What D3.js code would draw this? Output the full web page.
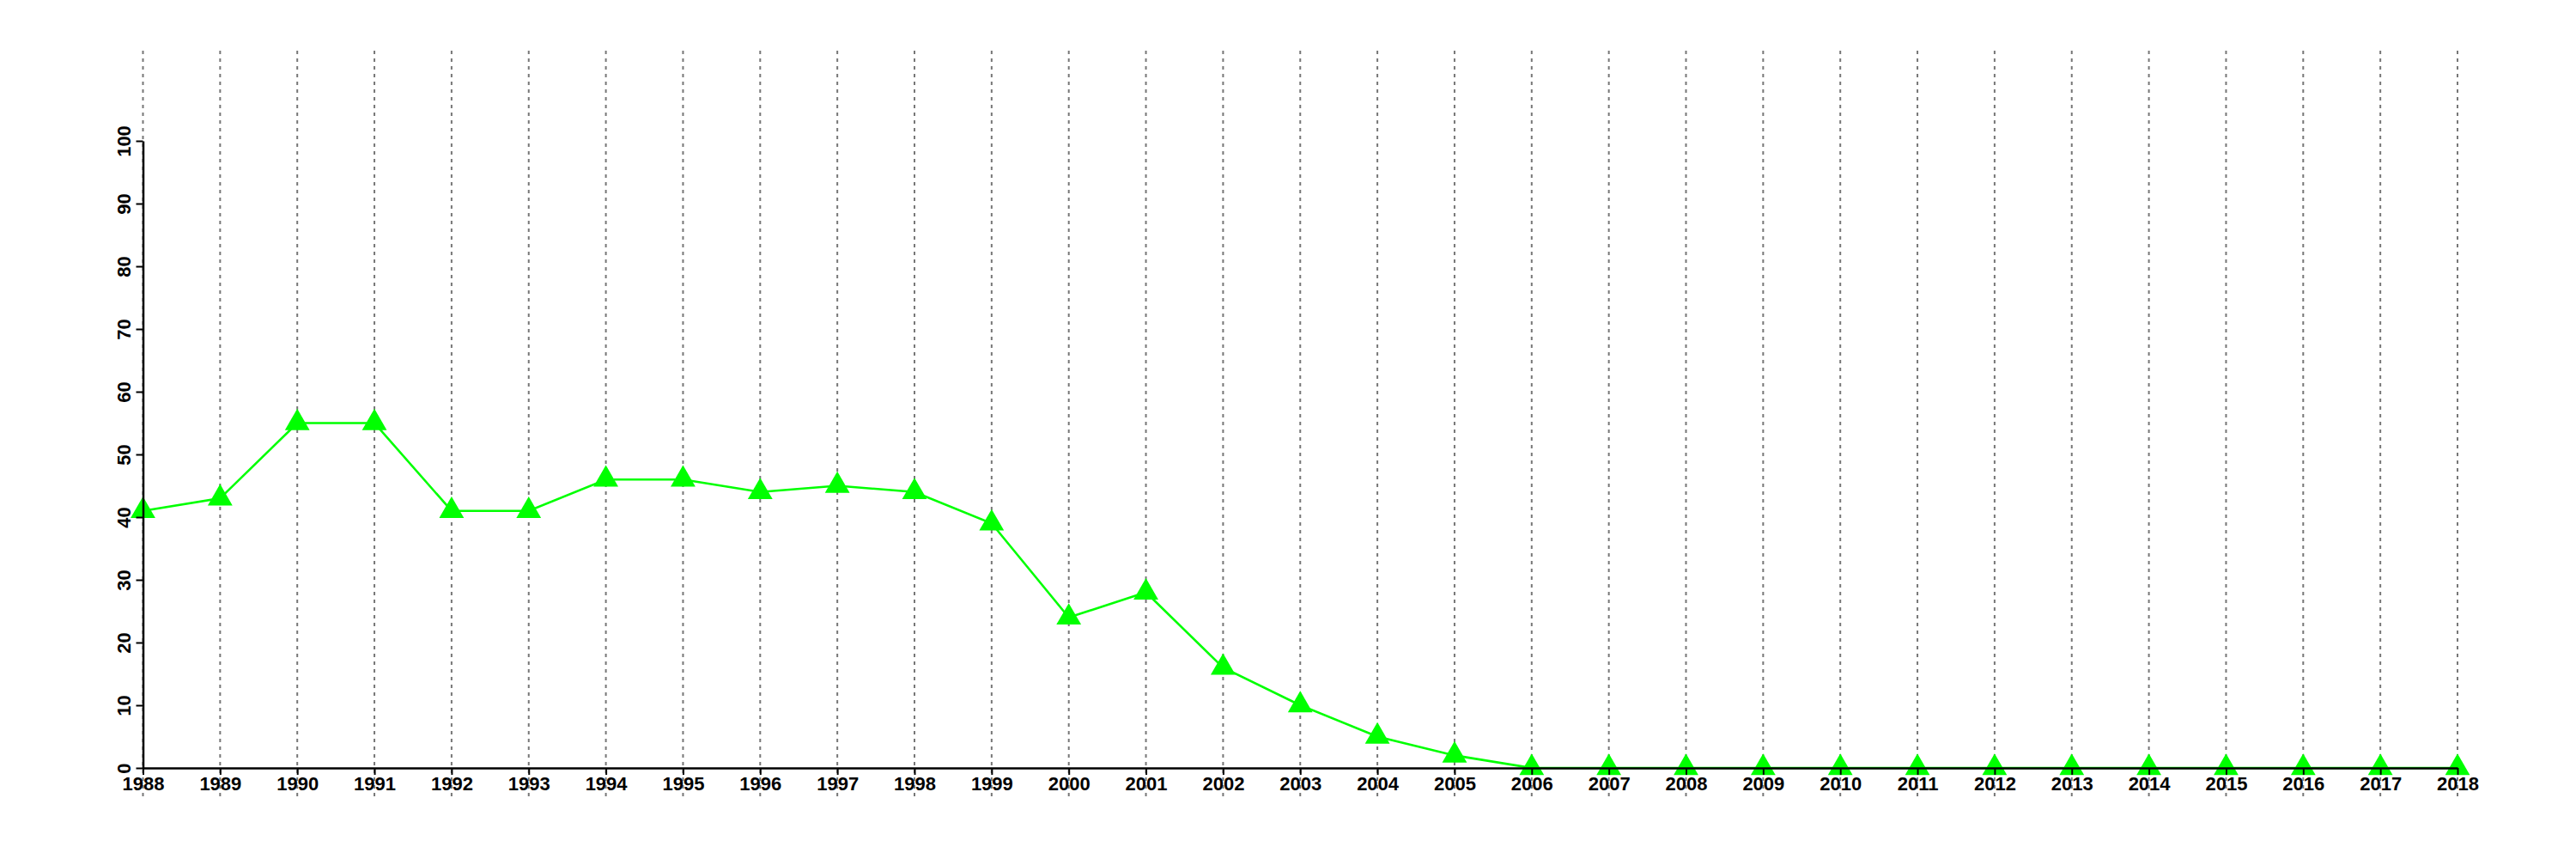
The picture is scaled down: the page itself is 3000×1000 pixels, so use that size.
<!DOCTYPE html>
<html>
<head>
<meta charset="utf-8">
<script src="https://cdn.jsdelivr.net/npm/d3@7"></script>
<style>
  html, body { margin: 0; padding: 0; background: #fff; }
  svg { display: block; }
  text { font-family: "Liberation Sans", Arial, sans-serif; font-weight: bold; font-size: 22px; fill: #000; }
</style>
</head>
<body>
<svg id="chart" width="3000" height="1000"></svg>
<script>
const years = [1988,1989,1990,1991,1992,1993,1994,1995,1996,1997,1998,1999,2000,2001,2002,2003,2004,2005,2006,2007,2008,2009,2010,2011,2012,2013,2014,2015,2016,2017,2018];
const values = [41,43,55,55,41,41,46,46,44,45,44,39,24,28,16,10,5,2,0,0,0,0,0,0,0,0,0,0,0,0,0];
const yTicks = [0,10,20,30,40,50,60,70,80,90,100];

const svg = d3.select("#chart");
const x = d3.scaleLinear().domain([1988, 2018]).range([166.5, 2862]);
const y = d3.scaleLinear().domain([0, 100]).range([894, 164]);

// vertical dotted gridlines
svg.append("g").selectAll("line").data(years).join("line")
  .attr("x1", d => x(d)).attr("x2", d => x(d))
  .attr("y1", 59).attr("y2", 928)
  .attr("stroke", "#777").attr("stroke-width", 2)
  .attr("stroke-dasharray", "4,5");

// line
const pts = years.map((yr, i) => [yr, values[i]]);
svg.append("path").datum(pts)
  .attr("fill", "none").attr("stroke", "#00ff00").attr("stroke-width", 2.6)
  .attr("d", d3.line().x(d => x(d[0])).y(d => y(d[1])));

// markers
svg.append("g").selectAll("path").data(pts).join("path")
  .attr("transform", d => `translate(${x(d[0])},${y(d[1])})`)
  .attr("d", d3.symbol().type(d3.symbolTriangle).size(360))
  .attr("fill", "#00ff00");

// x axis
const xAxis = svg.append("g").attr("transform", `translate(0,${y(0)})`)
  .call(d3.axisBottom(x).tickValues(years).tickFormat(d3.format("d")).tickSize(8).tickPadding(4).tickSizeOuter(0));
xAxis.select(".domain").attr("stroke", "#000").attr("stroke-width", 2.5);
xAxis.selectAll(".tick line").attr("stroke", "#000").attr("stroke-width", 2);
xAxis.selectAll(".tick text").attr("font-size", 22).attr("font-weight", "bold")
  .attr("font-family", "'Liberation Sans', Arial, sans-serif").attr("dy", null).attr("y", 26);

// y axis
const yAxis = svg.append("g").attr("transform", `translate(${x(1988)},0)`)
  .call(d3.axisLeft(y).tickValues(yTicks).tickSize(8).tickSizeOuter(0));
yAxis.select(".domain").attr("stroke", "#000").attr("stroke-width", 2.5);
yAxis.selectAll(".tick line").attr("stroke", "#000").attr("stroke-width", 2);
yAxis.selectAll(".tick text")
  .attr("font-size", 22).attr("font-weight", "bold")
  .attr("font-family", "'Liberation Sans', Arial, sans-serif")
  .attr("x", null).attr("dy", null)
  .attr("text-anchor", "middle")
  .attr("transform", "translate(-15,0) rotate(-90)");
</script>
</body>
</html>
